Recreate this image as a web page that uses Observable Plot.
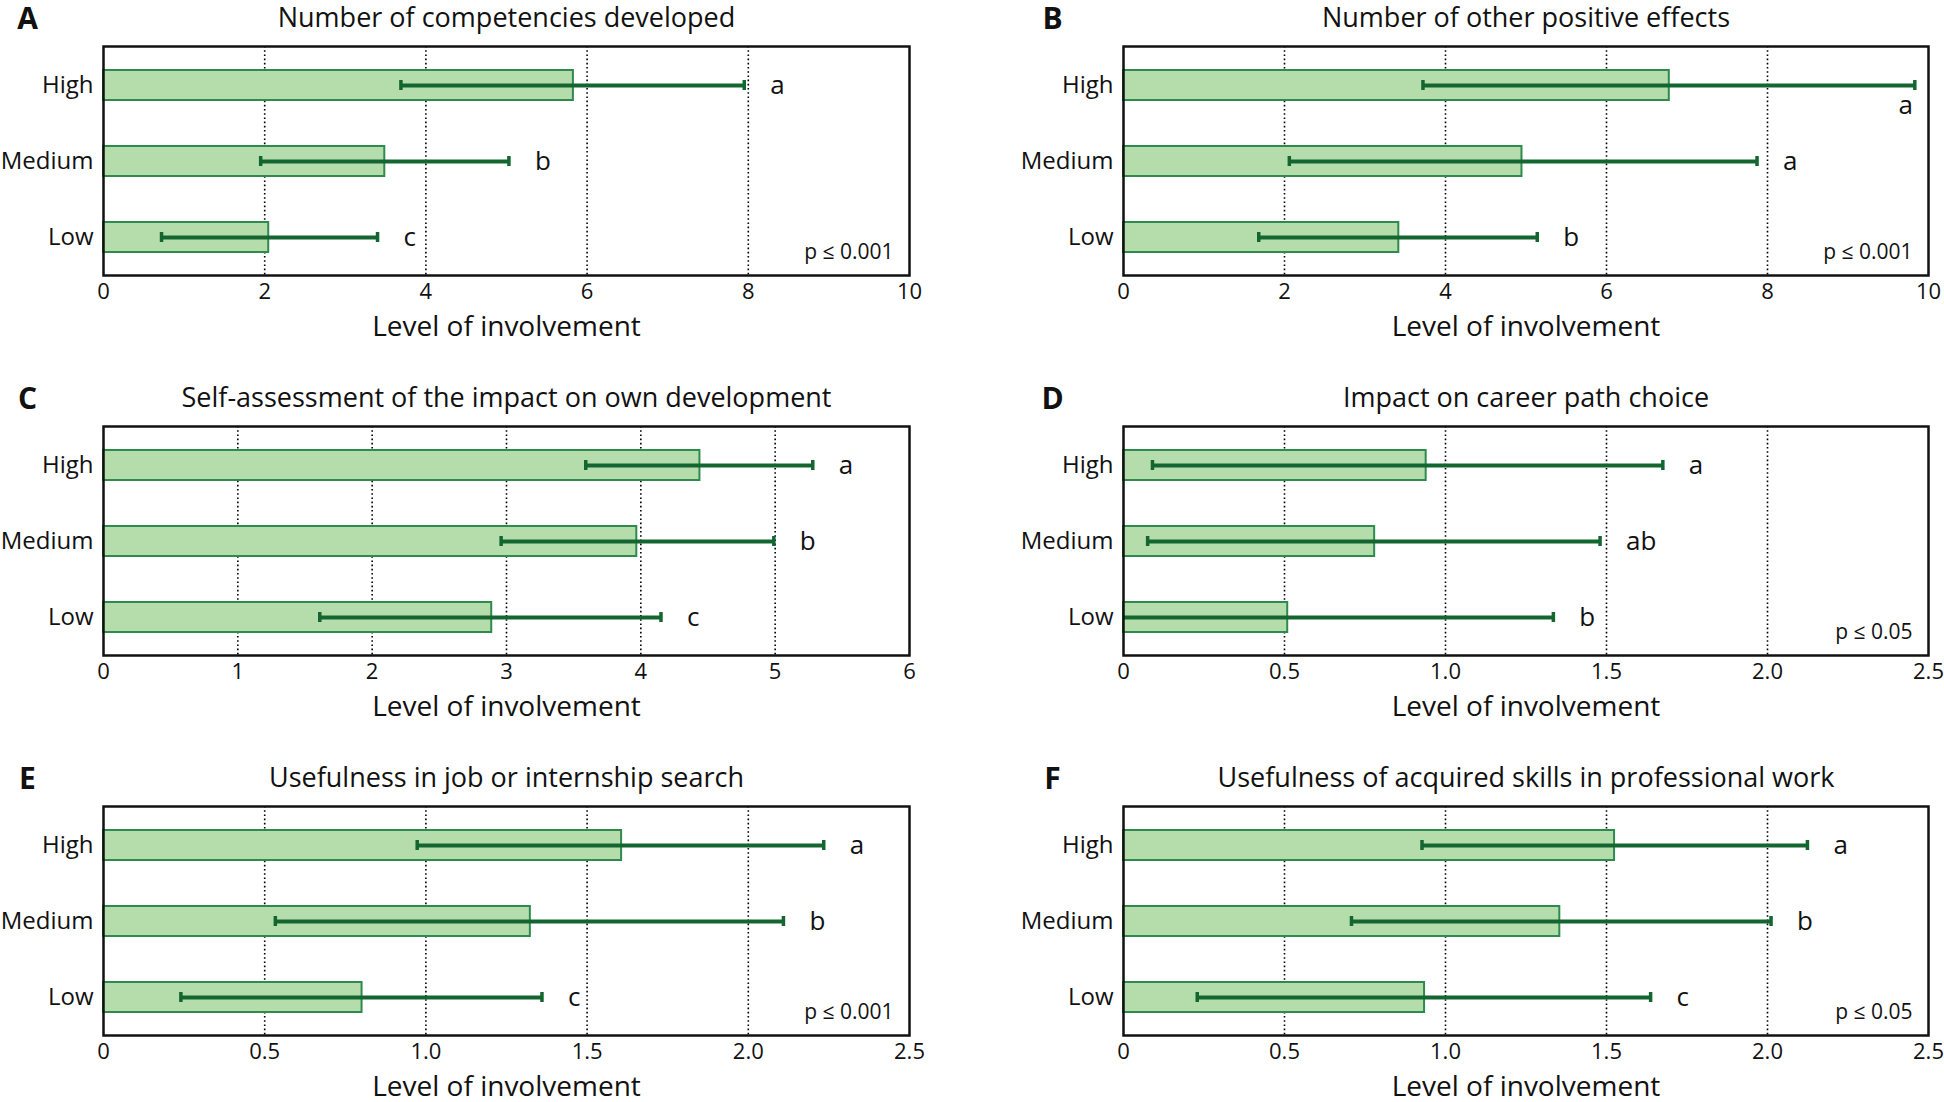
<!DOCTYPE html>
<html>
<head>
<meta charset="utf-8">
<script src="https://cdn.jsdelivr.net/npm/d3@7"></script>
<script src="https://cdn.jsdelivr.net/npm/@observablehq/plot@0.6"></script>
<style>
  html, body { margin: 0; padding: 0; background: #fff; }
  body { width: 1944px; height: 1102px; overflow: hidden; position: relative; font-family: "Open Sans", sans-serif; }
  .panel { position: absolute; }
  .panel svg { overflow: visible; }
</style>
</head>
<body>
<script>
// ---- data ----
const groups = ["High", "Medium", "Low"];
const panelLetters = ["A", "B", "C", "D", "E", "F"];
const titles = [
  "Number of competencies developed",
  "Number of other positive effects",
  "Self-assessment of the impact on own development",
  "Impact on career path choice",
  "Usefulness in job or internship search",
  "Usefulness of acquired skills in professional work"
];
const xMax = [10, 10, 6, 2.5, 2.5, 2.5];
const ticksEven = [0, 2, 4, 6, 8, 10];
const ticksUnit = [0, 1, 2, 3, 4, 5, 6];
const ticksHalf = [0, 0.5, 1, 1.5, 2, 2.5];
const tickLabelsHalf = ["0", "0.5", "1.0", "1.5", "2.0", "2.5"];
const pValues = ["p \u2264 0.001", "p \u2264 0.001", "", "p \u2264 0.05", "p \u2264 0.001", "p \u2264 0.05"];
const xLabel = "Level of involvement";

const meanA = [5.83, 3.49, 2.05], lowA = [3.69, 1.95, 0.72], highA = [7.95, 5.03, 3.40], lettersA = ["a", "b", "c"];
const meanB = [6.78, 4.95, 3.42], lowB = [3.72, 2.06, 1.68], highB = [9.83, 7.87, 5.14], lettersB = ["a", "a", "b"];
const meanC = [4.44, 3.97, 2.89], lowC = [3.59, 2.96, 1.61], highC = [5.28, 4.99, 4.15], lettersC = ["a", "b", "c"];
const meanD = [0.94, 0.78, 0.51], lowD = [0.09, 0.075, -0.31], highD = [1.675, 1.48, 1.335], lettersD = ["a", "ab", "b"];
const meanE = [1.607, 1.324, 0.802], lowE = [0.973, 0.533, 0.24], highE = [2.234, 2.109, 1.36], lettersE = ["a", "b", "c"];
const meanF = [1.525, 1.355, 0.935], lowF = [0.927, 0.708, 0.229], highF = [2.124, 2.011, 1.637], lettersF = ["a", "b", "c"];
const letterBelowB = [true, false, false];

const panels = [
  {mean: meanA, low: lowA, high: highA, letters: lettersA, ticks: ticksEven, labels: null},
  {mean: meanB, low: lowB, high: highB, letters: lettersB, ticks: ticksEven, labels: null, below: letterBelowB},
  {mean: meanC, low: lowC, high: highC, letters: lettersC, ticks: ticksUnit, labels: null},
  {mean: meanD, low: lowD, high: highD, letters: lettersD, ticks: ticksHalf, labels: tickLabelsHalf},
  {mean: meanE, low: lowE, high: highE, letters: lettersE, ticks: ticksHalf, labels: tickLabelsHalf},
  {mean: meanF, low: lowF, high: highF, letters: lettersF, ticks: ticksHalf, labels: tickLabelsHalf}
];

// ---- styles ----
const FILL = "#b5dcab", EDGE = "#2e8b4e", ERR = "#146631";
const FONT = "Open Sans";
const W = 972, H = 384, ROW = 380;

panels.forEach((p, i) => {
  const col = i % 2, row = Math.floor(i / 2);
  const data = groups.map((g, k) => ({
    group: g, mean: p.mean[k], lo: p.low[k], hi: p.high[k], letter: p.letters[k],
    below: p.below ? p.below[k] : false
  }));
  const interior = p.ticks.slice(1, -1);
  const fmt = p.labels ? (d => p.labels[p.ticks.indexOf(d)]) : (d => String(d));
  const chart = Plot.plot({
    width: W,
    height: H,
    marginTop: 46,
    marginBottom: 109,
    marginLeft: col === 0 ? 103 : 151,
    marginRight: col === 0 ? 63 : 16,
    style: {fontFamily: FONT, background: "transparent", overflow: "visible"},
    x: {domain: [0, xMax[i]]},
    y: {domain: groups, paddingInner: 0.61, paddingOuter: 0.305},
    marks: [
      Plot.ruleX(interior, {x: d => d, stroke: "#000", strokeWidth: 1.6, strokeDasharray: "1.6,2.6"}),
      Plot.barX(data, {x: "mean", y: "group", fill: FILL, stroke: EDGE, strokeWidth: 2}),
      Plot.ruleY(data, {x1: d => Math.max(0, d.lo), x2: "hi", y: "group", stroke: ERR, strokeWidth: 4.2}),
      Plot.tickX(data.filter(d => d.lo >= 0), {x: "lo", y: "group", stroke: ERR, strokeWidth: 3.5, insetTop: 10, insetBottom: 10}),
      Plot.tickX(data, {x: "hi", y: "group", stroke: ERR, strokeWidth: 3.5, insetTop: 10, insetBottom: 10}),
      Plot.text(data.filter(d => !d.below), {x: "hi", y: "group", text: "letter", textAnchor: "start", dx: 26, fontSize: 26, fill: "#111"}),
      Plot.text(data.filter(d => d.below), {x: "hi", y: "group", text: "letter", textAnchor: "middle", dx: -9, dy: 20, fontSize: 26, fill: "#111"}),
      pValues[i] ? Plot.text([pValues[i]], {frameAnchor: "bottom-right", dx: -16, dy: -17, fontSize: 21, fill: "#111"}) : null,
      Plot.axisX({ticks: p.ticks, tickFormat: fmt, tickSize: 0, tickPadding: 8, fontSize: 22, label: null, fill: "#111"}),
      Plot.axisY({tickSize: 0, tickPadding: 10, fontSize: 24, label: null, fill: "#111"}),
      Plot.text([xLabel], {frameAnchor: "bottom", dy: 52, lineAnchor: "middle", fontSize: 28, fill: "#111"}),
      Plot.text([titles[i]], {frameAnchor: "top", dy: -28, lineAnchor: "middle", fontSize: 27, fill: "#111"}),
      Plot.text([panelLetters[i]], {frameAnchor: "top-left", dx: col === 0 ? -76 : -71, dy: -27, lineAnchor: "middle", textAnchor: "middle", fontSize: 30, fontWeight: "bold", fill: "#111"}),
      Plot.frame({stroke: "#111", strokeWidth: 2.5})
    ]
  });
  const div = document.createElement("div");
  div.className = "panel";
  div.style.left = (col * W) + "px";
  div.style.top = (row * ROW) + "px";
  div.appendChild(chart);
  document.body.appendChild(div);
});
</script>
</body>
</html>
